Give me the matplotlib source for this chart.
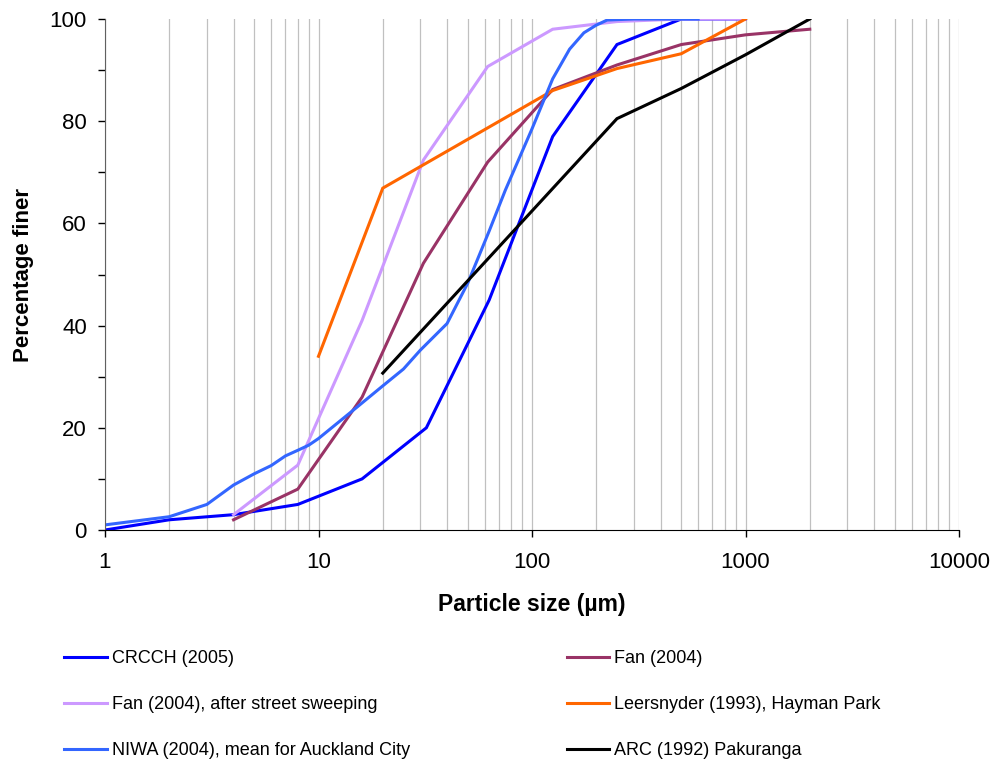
import numpy as np
from matplotlib import pyplot as plt
from matplotlib.ticker import LogLocator, FixedLocator, NullFormatter

plt.rcParams['font.family'] = ['Liberation Sans', 'DejaVu Sans']

# particle size (um) vs percentage finer
crcch_x = [1, 2, 4, 8, 16, 32, 63, 125, 250, 500, 1000]
crcch_y = [0, 2, 3, 5, 10, 20, 45, 77, 95, 100, 100]

fan_x = [4, 8, 16, 31, 62, 125, 250, 500, 1000, 2000]
fan_y = [2, 8, 26, 52.2, 72, 86.2, 91, 95, 96.9, 98]

sweep_x = [4, 8, 16, 31, 62, 125, 250, 500, 1000]
sweep_y = [3, 12.7, 41, 72.4, 90.7, 98, 99.5, 100, 100]

leer_x = [10, 20, 125, 250, 500, 1000]
leer_y = [34, 66.9, 86, 90.3, 93.2, 100]

niwa_x = [1, 2, 3, 4, 5, 6, 7, 8, 9, 10, 15, 20, 25, 30, 40, 50, 63, 75,
          100, 125, 150, 175, 200, 225, 300, 600]
niwa_y = [1, 2.6, 5, 8.8, 11, 12.6, 14.5, 15.6, 16.6, 17.9, 23.9, 28.2,
          31.5, 35.2, 40.4, 48.3, 58.5, 66.5, 78.5, 88.3, 94.1, 97.3,
          98.8, 99.8, 100, 100]

arc_x = [20, 250, 500, 1000, 2000]
arc_y = [30.7, 80.5, 86.4, 93, 100]

series = [
    ('CRCCH (2005)', crcch_x, crcch_y, '#0000FF'),
    ('Fan (2004)', fan_x, fan_y, '#993366'),
    ('Fan (2004), after street sweeping', sweep_x, sweep_y, '#CC99FF'),
    ('Leersnyder (1993), Hayman Park', leer_x, leer_y, '#FF6600'),
    ('NIWA (2004), mean for Auckland City', niwa_x, niwa_y, '#3366FF'),
    ('ARC (1992) Pakuranga', arc_x, arc_y, '#000000'),
]

fig = plt.figure(figsize=(9.99, 7.62), dpi=100)
ax = fig.add_axes([105 / 999, 1 - 530 / 762, 854 / 999, 511 / 762])

lines = {}
for label, x, y, c in series:
    ln, = ax.plot(x, y, color=c, lw=2.2, label=label, solid_joinstyle='miter')
    lines[label] = ln

ax.set_xscale('log')
ax.set_xlim(1, 10000)
ax.set_ylim(0, 100)

ax.xaxis.set_major_locator(FixedLocator([1, 10, 100, 1000, 10000]))
ax.set_xticklabels(['1', '10', '100', '1000', '10000'])
ax.xaxis.set_minor_locator(LogLocator(base=10, subs=np.arange(2, 10)))
ax.xaxis.set_minor_formatter(NullFormatter())
ax.grid(which='both', axis='x', color='#C0C0C0', lw=0.9)
ax.set_axisbelow(True)

ax.set_yticks([0, 20, 40, 60, 80, 100])
ax.yaxis.set_minor_locator(FixedLocator([10, 30, 50, 70, 90]))

ax.tick_params(axis='both', which='major', labelsize=16, direction='out',
               length=5, width=1)
ax.tick_params(axis='x', which='minor', length=0)
ax.tick_params(axis='y', which='minor', direction='out', length=5, width=1)
ax.tick_params(axis='x', pad=11)
ax.tick_params(axis='y', pad=8)

for s in ['top', 'right']:
    ax.spines[s].set_visible(False)
ax.spines['left'].set_color('#606060')
ax.spines['bottom'].set_color('black')

ax.set_xlabel('Particle size (\u00b5m)', fontsize=16.5, fontweight='bold',
              labelpad=14)
ax.set_ylabel('Percentage finer', fontsize=16, fontweight='bold',
              labelpad=11)

order = ['CRCCH (2005)', 'Fan (2004), after street sweeping',
         'NIWA (2004), mean for Auckland City', 'Fan (2004)',
         'Leersnyder (1993), Hayman Park', 'ARC (1992) Pakuranga']
fig.legend([lines[k] for k in order], order, ncol=2, frameon=False,
           loc='upper left', bbox_to_anchor=(48 / 999, 1 - 634 / 762),
           fontsize=13, handlelength=2.35, handletextpad=0.28,
           labelspacing=1.6, columnspacing=8.7)

fig.savefig('out.png', dpi=100)
